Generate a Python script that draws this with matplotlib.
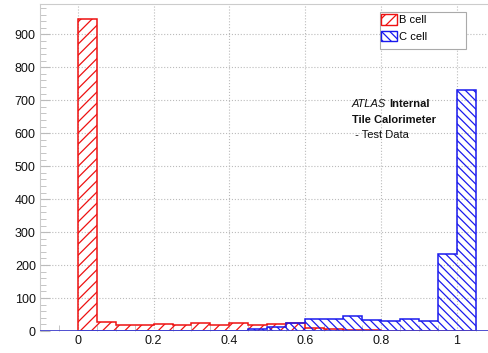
import numpy as np
import matplotlib
matplotlib.use("Agg")
import matplotlib.pyplot as plt
from matplotlib.patches import Patch, Rectangle
from matplotlib.ticker import MultipleLocator

plt.rcParams['font.family'] = ['Liberation Sans', 'DejaVu Sans']
plt.rcParams['hatch.linewidth'] = 0.9

edges = np.round(np.arange(0, 1.05 + 0.001, 0.05), 2)   # 21 bins of width 0.05
b_cell = [945, 27, 18, 18, 20, 18, 25, 19, 25, 17, 20, 23, 9, 6, 3, 2, 1, 1, 1, 1, 0]
c_cell = [0, 0, 0, 0, 0, 0, 0, 0, 0, 6, 13, 25, 36, 36, 45, 33, 31, 35, 29, 233, 730]

red = '#ee1111'
blue = '#1a1aee'
red_hatch = '///'
blue_hatch = '\\\\\\\\'

fig = plt.figure(figsize=(4.89, 3.53), dpi=100)
ax = fig.add_axes([40/489, 22/353, 448/489, 327/353])

ax.stairs(b_cell, edges, fill=True, facecolor='none', edgecolor=red,
          hatch=red_hatch, linewidth=1.1, zorder=3)
ax.stairs(c_cell, edges, fill=True, facecolor='none', edgecolor=blue,
          hatch=blue_hatch, linewidth=1.1, zorder=4)
ax.axhline(0, color='#4040cc', lw=2, zorder=5)

ax.set_xlim(-0.1, 1.083)
ax.set_ylim(0, 992)

ax.yaxis.set_major_locator(MultipleLocator(100))
ax.yaxis.set_minor_locator(MultipleLocator(20))
ax.xaxis.set_minor_locator(MultipleLocator(0.05))
ax.set_xticks(np.arange(0, 1.01, 0.2))
ax.set_xticklabels(['0', '0.2', '0.4', '0.6', '0.8', '1'])

ax.tick_params(which='both', direction='in', color='#bbbbbb', labelsize=9,
               labelcolor='#111111', pad=3)
ax.tick_params(which='major', length=7)
ax.tick_params(which='minor', length=4)
ax.tick_params(axis='x', which='major', length=0)
ax.grid(True, which='major', color='#bbbbbb', linestyle=':', linewidth=0.8)
ax.set_axisbelow(True)

for s in ['left', 'top']:
    ax.spines[s].set_color('#cccccc')
ax.spines['right'].set_visible(False)
ax.spines['bottom'].set_visible(False)

ax.text(0.7235, 680, 'ATLAS', fontsize=8, style='italic', color='#111111')
ax.text(0.821, 680, 'Internal', fontsize=8, fontweight='bold', color='#111111')
ax.text(0.7235, 632, 'Tile Calorimeter', fontsize=8, fontweight='bold', color='#111111')
ax.text(0.7235, 584, ' - Test Data', fontsize=8, color='#111111')

# legend box drawn by hand (ROOT style, wider than its entries)
fig.patches.append(Rectangle((380/489, 1 - 49/353), 86/489, 37/353, transform=fig.transFigure,
                             facecolor='white', edgecolor='#aaaaaa', linewidth=0.8, zorder=10))
handles = [Patch(facecolor='none', edgecolor=red, hatch=red_hatch, label='B cell'),
           Patch(facecolor='none', edgecolor=blue, hatch=blue_hatch, label='C cell')]
leg = fig.legend(handles=handles, loc='upper left', bbox_to_anchor=(381/489, 1 - 14/353),
                 fontsize=8, frameon=False, handlelength=1.45, handleheight=1.08,
                 handletextpad=0.2, borderpad=0, labelspacing=0.5, borderaxespad=0)
leg.set_zorder(11)

fig.savefig('out.png', dpi=100)
